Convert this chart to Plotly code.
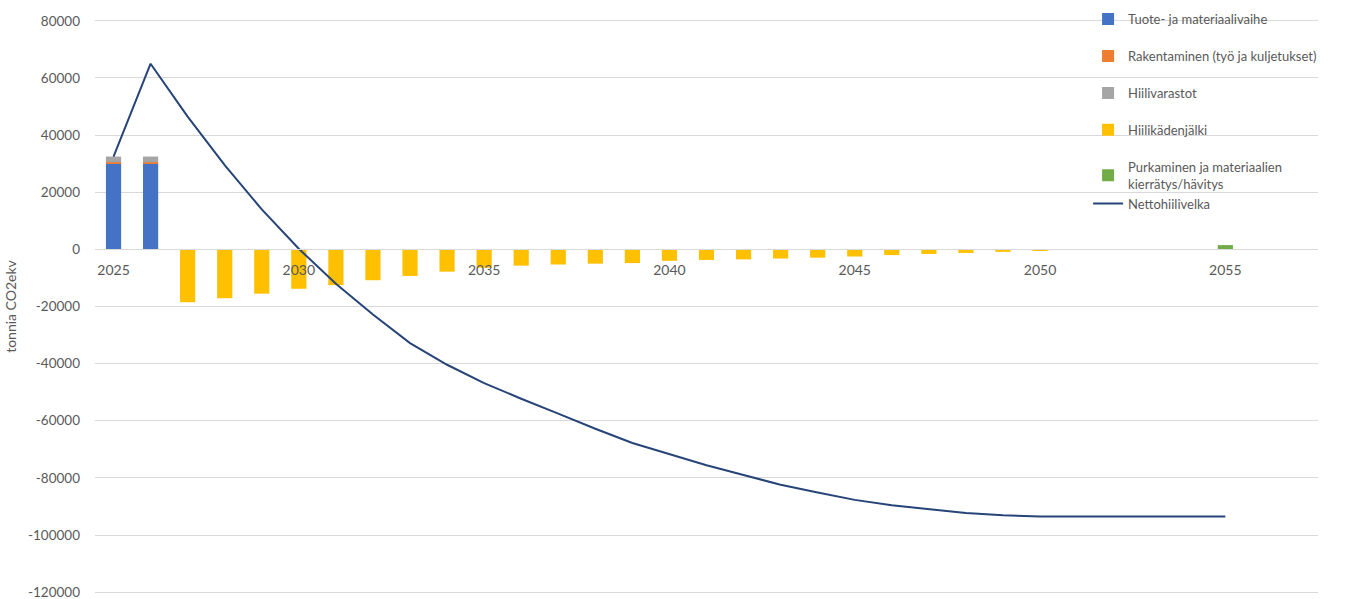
import plotly.graph_objects as go

# Stacked bar series (tonnia CO2ekv)
tuote_years = [2025, 2026]
tuote_vals = [30000, 30000]
rakent_years = [2025, 2026]
rakent_vals = [500, 500]
hiilivarastot_years = [2025, 2026]
hiilivarastot_vals = [2000, 2000]
kadenjalki_years = list(range(2027, 2051))
kadenjalki_vals = [-18500, -17100, -15500, -13800, -12500, -10800, -9300, -7800,
                   -6400, -5700, -5300, -5000, -4800, -4000, -3700, -3500,
                   -3200, -2900, -2500, -2000, -1600, -1250, -870, -500]
purku_years = [2055]
purku_vals = [1500]

# Line: Nettohiilivelka
netto_years = list(range(2025, 2056))
netto_vals = [32500, 65000, 46500, 29500, 14000, 200, -12000, -22800, -32800, -40400,
              -46800, -52300, -57500, -62800, -67800, -71800, -75600, -79000, -82400,
              -85100, -87700, -89600, -91000, -92300, -93100, -93500, -93500, -93500,
              -93500, -93500, -93500]

tick_years = [2025, 2030, 2035, 2040, 2045, 2050, 2055]
y_ticks = [80000, 60000, 40000, 20000, 0, -20000, -40000, -60000, -80000, -100000, -120000]
y_tick_text = ["80000", "60000", "40000", "20000", "0", "-20000", "-40000",
               "-60000", "-80000", "-100000", "-120000"]

FONT = "Lato"
TXT = "#595959"
Y_MIN, Y_MAX = -121000, 81000

fig = go.Figure()
fig.add_bar(x=tuote_years, y=tuote_vals, name="Tuote- ja materiaalivaihe",
            marker=dict(color="#4472C4", line=dict(width=0)), legendgroup="g1")
fig.add_bar(x=rakent_years, y=rakent_vals, name="Rakentaminen (työ ja kuljetukset)",
            marker=dict(color="#ED7D31", line=dict(width=0)), legendgroup="g2")
fig.add_bar(x=hiilivarastot_years, y=hiilivarastot_vals, name="Hiilivarastot",
            marker=dict(color="#A5A5A5", line=dict(width=0)), legendgroup="g3")
fig.add_bar(x=kadenjalki_years, y=kadenjalki_vals, name="Hiilikädenjälki",
            marker=dict(color="#FFC000", line=dict(width=0)), legendgroup="g4")
fig.add_bar(x=purku_years, y=purku_vals, name="Purkaminen ja materiaalien<br>kierrätys/hävitys",
            marker=dict(color="#70AD47", line=dict(width=0)), legendgroup="g5")
fig.add_scatter(x=netto_years, y=netto_vals, name="Nettohiilivelka", mode="lines",
                line=dict(color="#264478", width=2), legendgroup="g5")

fig.update_layout(
    width=1358, height=599,
    barmode="relative", bargap=0.59,
    plot_bgcolor="white", paper_bgcolor="white",
    margin=dict(l=95, r=40, t=16, b=4),
    font=dict(family=FONT, size=14, color=TXT),
    showlegend=True,
    legend=dict(x=0.812, y=1.024, xanchor="left", yanchor="top",
                bgcolor="rgba(0,0,0,0)", traceorder="grouped",
                tracegroupgap=17, itemwidth=30,
                font=dict(family=FONT, size=13, color=TXT)),
    xaxis=dict(range=[2024.5, 2057.5], tickvals=tick_years,
               ticktext=[str(t) for t in tick_years],
               anchor="free", position=(0 - Y_MIN) / (Y_MAX - Y_MIN), showgrid=False,
               showline=True, linecolor="#d9d9d9", linewidth=1,
               ticks="", zeroline=False, ticklabelstandoff=8, automargin=False,
               tickfont=dict(family=FONT, size=14, color=TXT)),
    yaxis=dict(range=[Y_MIN, Y_MAX], tickvals=y_ticks, ticktext=y_tick_text,
               showgrid=True, gridcolor="#d9d9d9", gridwidth=1,
               zeroline=False, ticks="", ticklabelstandoff=14,
               ticklabeloverflow="allow", automargin=False,
               tickfont=dict(family=FONT, size=13.5, color=TXT),
               title=dict(text="tonnia CO2ekv", standoff=8,
                          font=dict(family=FONT, size=14, color=TXT))),
)

fig.write_html("out.html")
